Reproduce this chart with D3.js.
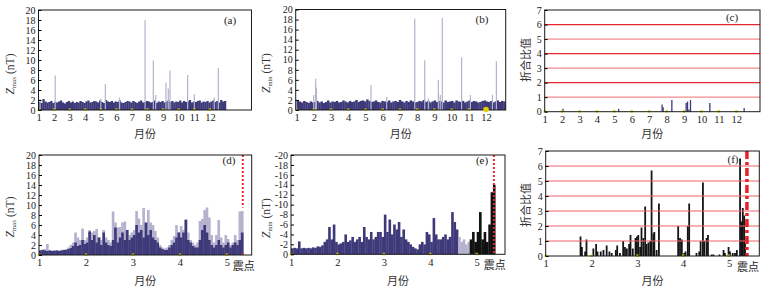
<!DOCTYPE html>
<html>
<head>
<meta charset="utf-8">
<script src="https://cdn.jsdelivr.net/npm/d3@7"></script>
<style>
body { margin: 0; background: #fff; }
</style>
</head>
<body>
<div id="chart"></div>
<script>
// ---------- data ----------
const yearTicks = [1, 2, 3, 4, 5, 6, 7, 8, 9, 10, 11, 12];
const quakeTicks = [1, 2, 3, 4, 5];
const zTicks = [0, 2, 4, 6, 8, 10, 12, 14, 16, 18, 20];
const ratioTicks = [0, 1, 2, 3, 4, 5, 6, 7];
const ratioLines = [1, 2, 3, 4, 5, 6];

// (a) Zmax, one year: background level (1/8 month steps from month 1) and isolated spikes
const aBaseStart = 1, aBaseEnd = 13.03;
const aBase = [1.6,1.4,2.2,1.7,1.5,1.6,1.8,1.4,1.6,1.5,1.7,1.9,1.5,1.3,1.6,1.8,1.5,1.7,1.4,1.6,1.5,1.8,1.6,1.4,
  1.7,1.9,1.5,1.6,1.8,1.7,1.5,1.9,1.6,1.4,2.0,1.7,1.6,1.8,1.5,1.7,1.6,1.9,1.5,1.4,1.6,1.8,1.7,1.5,
  1.8,1.6,1.4,1.7,1.9,1.5,1.6,1.8,1.7,1.5,1.6,1.9,1.4,1.7,1.6,1.8,1.5,1.7,1.9,1.6,1.8,1.5,1.7,1.6,
  1.9,1.5,1.8,1.6,1.7,2.0,1.5,1.7,1.6,1.8,1.9,1.5,1.7,1.6,1.8,1.5,1.7,1.9,1.6,1.8,1.5,2.0,1.7,1.8];
const aSpikeMonth = [1.1, 2.07, 5.0, 5.29, 6.2, 7.84, 8.37, 8.52, 9.18, 9.33, 9.44, 10.57, 11.0, 12.28, 12.54];
const aSpikeValue = [2.2, 6.9, 2.3, 5.2, 2.5, 18.0, 9.9, 3.0, 5.5, 4.3, 7.9, 7.0, 3.2, 2.5, 8.4];

// (b) Zmin, one year
const bBaseStart = 1, bBaseEnd = 13.12;
const bBase = [2.0,1.7,1.5,1.8,1.6,1.4,1.7,1.5,1.6,1.8,1.5,1.7,1.4,1.6,1.9,1.5,1.7,1.6,1.8,1.5,1.6,1.9,1.7,1.5,
  1.8,1.6,1.7,2.0,1.6,1.8,1.9,1.7,2.1,1.8,1.6,1.7,1.9,1.6,1.5,1.8,1.7,1.6,1.9,1.5,1.7,1.8,1.6,2.0,
  1.7,1.5,1.8,1.6,1.9,1.7,1.5,1.6,1.8,1.7,2.0,1.6,1.8,1.5,1.7,1.9,1.6,1.8,1.7,1.5,1.9,1.6,1.7,1.8,
  1.5,1.9,1.7,1.6,1.8,1.5,1.7,1.9,1.6,1.8,1.7,1.5,1.6,1.8,1.9,1.7,1.6,1.8,1.5,1.7,1.9,1.6,1.8,1.7];
const bSpikeMonth = [2.0, 2.11, 2.15, 5.32, 6.23, 7.86, 8.44, 8.65, 9.23, 9.34, 9.46, 10.58, 11.09, 12.37, 12.6];
const bSpikeValue = [3.0, 6.2, 4.5, 5.0, 2.6, 18.2, 9.9, 2.3, 6.0, 3.0, 18.3, 10.5, 3.0, 3.0, 9.7];

// (c) ratio, one year
const cMonth = [2.05, 5.25, 7.74, 7.8, 8.3, 9.12, 9.2, 9.28, 9.37, 10.48, 12.45];
const cValue = [0.2, 0.2, 0.5, 0.3, 0.8, 0.6, 0.7, 0.15, 0.8, 0.6, 0.25];

// (d) Zmax before the quake, 0.05-month steps from month 1
const dStep = 0.05;
const dQuake = 5.34;
const dUpper = [1.0,1.1,1.2,2.2,1.0,0.9,1.0,1.0,0.9,1.0,1.1,1.2,
  1.5,2.0,2.5,4.5,3.5,3.0,5.3,3.0,
  3.5,5.0,4.5,4.8,5.2,3.5,3.0,5.0,3.5,3.0,
  2.5,8.7,6.5,5.5,5.6,6.5,6.7,5.0,4.0,4.5,
  5.0,8.8,7.3,6.0,9.4,5.0,9.0,6.5,6.0,4.8,
  3.5,2.0,1.5,1.3,1.5,2.0,3.0,3.8,6.0,4.5,
  5.8,5.0,7.2,4.5,3.0,2.5,2.0,2.5,6.8,7.2,
  9.0,9.5,7.5,4.0,2.5,4.0,7.0,3.5,2.5,4.0,
  3.2,2.0,2.5,4.0,3.0,8.7,8.8];
const dLower = [0.9,1.0,0.9,0.8,0.9,0.8,0.8,0.9,0.8,0.9,1.0,1.0,
  1.2,1.4,1.8,2.5,1.8,2.0,3.0,2.2,
  2.5,4.7,3.0,4.0,2.5,3.5,2.0,4.5,2.5,2.0,
  1.8,3.0,5.5,2.5,3.5,4.5,3.0,5.0,3.0,3.5,
  4.0,6.0,4.5,5.0,3.5,6.5,4.0,5.0,3.5,3.0,
  2.5,1.5,1.2,1.0,1.0,1.5,2.0,2.5,3.5,4.5,
  3.5,4.5,7.0,3.0,2.5,1.8,1.5,1.5,3.0,5.0,
  6.0,4.5,3.0,2.0,1.5,2.0,3.0,2.0,1.5,2.0,
  2.5,1.5,2.0,2.5,2.0,3.0,4.5];

// (e) Zmin before the quake (plotted as magnitude, labels negative)
const eStep = 0.05;
const eQuake = 5.37;
const eEarlyStart = 1.0;
const eEarly = [1.2,1.3,1.2,2.6,1.2,1.3,1.2,1.3,1.2,1.4,1.3,1.6,1.5,1.8,2.5,3.0,5.5,3.0,6.0,2.5,
  2.0,2.2,2.5,4.0,2.5,2.8,3.5,2.5,3.0,3.5,2.5,5.5,3.5,3.0,4.5,3.0,3.5,4.5,4.5,3.5,
  8.0,4.5,7.0,4.0,6.0,5.0,6.5,3.5,5.0,3.0,2.5,2.0,1.5,1.2,1.0,2.0,2.5,2.0,4.5,4.0,
  2.5,7.3,4.0,3.0,3.0,3.5,4.0,3.0,3.5,8.5,6.5,5.0];
const eMidStart = 4.6;
const eMid = [3.5, 2.5, 3.0, 2.0, 2.5];
const eLateStart = 4.85;
const eLate = [3.0, 4.5, 2.5, 4.5, 8.5, 3.0, 4.5, 2.5, 6.0, 12.5, 14.0];

// (f) ratio before the quake
const fQuake = 5.39;
const fMonth = [1.76,1.79,1.86,1.89,2.04,2.10,2.13,2.20,2.26,2.33,2.39,2.44,2.53,2.56,2.62,2.69,2.73,2.77,2.82,2.85,
  2.90,2.96,2.99,3.02,3.06,3.09,3.13,3.17,3.20,3.24,3.28,3.31,3.35,3.37,3.42,3.47,
  3.89,3.93,3.97,4.02,4.05,4.10,4.13,4.29,4.35,4.38,4.43,4.46,4.51,4.54,4.62,4.66,4.79,
  4.88,4.91,4.99,5.02,5.08,5.13,5.17,5.24,5.27,5.30,5.33,5.35];
const fValue = [1.3,0.6,0.3,1.1,0.5,0.8,0.3,0.3,0.4,0.7,0.3,0.2,0.4,0.7,0.2,1.0,0.6,0.5,0.8,1.4,
  0.5,1.2,1.3,1.4,0.6,1.9,1.2,3.3,0.8,0.9,1.0,5.7,1.5,1.6,0.4,3.5,
  2.0,1.2,1.1,0.2,0.3,2.0,3.5,0.2,0.3,1.0,4.9,1.0,1.2,1.4,0.1,0.1,0.1,
  0.4,0.2,0.6,0.3,0.2,0.2,0.4,6.5,2.3,3.2,2.7,0.8];

// ---------- drawing ----------
const DARK = "#3e3a7a", LIGHT = "#b4b2ce", RED = "#e8262e", PINK = "#f28a8e", YEL = "#e3d000";
const SERIF = "'Liberation Serif','Times New Roman',serif";
const CJK = "'Noto Sans CJK SC','Noto Sans',sans-serif";

const svg = d3.select("#chart").append("svg")
  .attr("width", 771).attr("height", 290)
  .style("font-family", SERIF);

function panel(o) {
  const x = d3.scaleLinear().domain(o.xd).range([o.L, o.R]);
  const y = d3.scaleLinear().domain([0, o.ymax]).range([o.B, o.T]);
  const g = svg.append("g");
  return { o, x, y, g, marks: g.append("g") };
}

// step bars starting at `start`, one value per `step`
function stepBars(P, vals, start, step, color) {
  const { x, y } = P;
  P.marks.append("g").selectAll("rect").data(vals).join("rect")
    .attr("x", (d, i) => x(start + i * step))
    .attr("width", (d, i) => x(start + (i + 1) * step) - x(start + i * step) + 0.3)
    .attr("y", d => y(d))
    .attr("height", d => y(0) - y(d))
    .attr("fill", color);
}

function spikes(P, months, vals, color, w) {
  const { x, y } = P;
  P.marks.append("g").selectAll("line").data(vals).join("line")
    .attr("x1", (d, i) => x(months[i])).attr("x2", (d, i) => x(months[i]))
    .attr("y1", y(0)).attr("y2", d => y(d))
    .attr("stroke", color).attr("stroke-width", w);
}

function dress(P, opt) {
  const { o, x, y, g } = P;
  // little yellow markers on the month ticks
  g.append("g").selectAll("rect").data(opt.xticks).join("rect")
    .attr("x", d => x(d) - 1.2).attr("y", o.B - 1.5)
    .attr("width", 2.4).attr("height", 2.4).attr("fill", YEL);

  g.append("rect")
    .attr("x", o.L).attr("y", o.T).attr("width", o.R - o.L).attr("height", o.B - o.T)
    .attr("fill", "none").attr("stroke", "#1a1a1a").attr("stroke-width", 1);

  const ya = g.append("g").attr("transform", `translate(${o.L},0)`)
    .call(d3.axisLeft(y).tickValues(opt.yticks).tickSize(-3).tickPadding(3)
      .tickFormat(opt.yfmt || (d => d)));
  ya.select(".domain").remove();
  ya.attr("font-family", SERIF).attr("font-size", 10);
  ya.selectAll("text").attr("fill", "#222");

  const xa = g.append("g").attr("transform", `translate(0,${o.B})`)
    .call(d3.axisBottom(x).tickValues(opt.xticks).tickSize(0).tickPadding(4).tickFormat(d => d));
  xa.select(".domain").remove();
  xa.attr("font-family", SERIF).attr("font-size", 10.5);
  xa.selectAll("text").attr("fill", "#222");

  // x title
  g.append("text").attr("x", (o.L + o.R) / 2).attr("y", opt.xtitleY)
    .attr("text-anchor", "middle").attr("font-family", CJK).attr("font-size", 11)
    .attr("fill", "#333").text("月份");

  // y title
  const yt = g.append("text")
    .attr("transform", `translate(${opt.ytX},${opt.ytY}) rotate(-90)`)
    .attr("text-anchor", "middle").attr("fill", "#333");
  if (opt.ysub) {
    yt.attr("font-size", 11.5);
    yt.append("tspan").attr("font-style", "italic").text("Z");
    yt.append("tspan").attr("font-size", 6.5).attr("dy", 1.5).text(opt.ysub);
    yt.append("tspan").attr("dy", -1.5).text(" (nT)");
  } else {
    yt.attr("font-family", CJK).attr("font-size", 11).text("折合比值");
  }

  // panel tag
  g.append("text").attr("x", opt.tag[1]).attr("y", opt.tag[2])
    .attr("text-anchor", "middle").attr("font-size", 11).attr("fill", "#222").text(opt.tag[0]);

  if (opt.quake !== undefined) {
    g.append("text").attr("x", x(opt.quake) + 1).attr("y", o.B + 15)
      .attr("text-anchor", "middle").attr("font-family", CJK).attr("font-size", 11)
      .attr("fill", "#222").text("震点");
  }
}

function ratioGrid(P, colors, w) {
  const { o, y } = P;
  P.g.append("g").selectAll("line").data(ratioLines).join("line")
    .attr("x1", o.L).attr("x2", o.R)
    .attr("y1", d => y(d)).attr("y2", d => y(d))
    .attr("stroke", (d, i) => colors[i % colors.length]).attr("stroke-width", w);
}

// ----- (a) -----
const pa = panel({ L: 38.5, R: 251.5, T: 10, B: 110, xd: [1, 14.67], ymax: 20 });
stepBars(pa, aBase, aBaseStart, (aBaseEnd - aBaseStart) / aBase.length, DARK);
spikes(pa, aSpikeMonth, aSpikeValue, LIGHT, 1.2);
dress(pa, { xticks: yearTicks, yticks: zTicks, xtitleY: 137.5, ytX: 14, ytY: 74, ysub: "max", tag: ["(a)", 230, 24] });

// ----- (b) -----
const pb = panel({ L: 295.7, R: 505.7, T: 9.5, B: 110, xd: [0.95, 13.14], ymax: 20 });
stepBars(pb, bBase, bBaseStart, (bBaseEnd - bBaseStart) / bBase.length, DARK);
spikes(pb, bSpikeMonth, bSpikeValue, LIGHT, 1.2);
dress(pb, { xticks: yearTicks, yticks: zTicks, xtitleY: 137.5, ytX: 270, ytY: 73, ysub: "min", tag: ["(b)", 482, 23] });
pb.g.append("circle").attr("cx", pb.x(12)).attr("cy", pb.o.B - 0.5).attr("r", 2.8).attr("fill", YEL);

// ----- (c) -----
const pc = panel({ L: 544.7, R: 760, T: 10, B: 111.7, xd: [1, 13.36], ymax: 7 });
ratioGrid(pc, [PINK, RED], 1.2);
spikes(pc, cMonth, cValue, DARK, 1.3);
dress(pc, { xticks: yearTicks, yticks: ratioTicks, xtitleY: 137.5, ytX: 530, ytY: 60, tag: ["(c)", 732, 21] });

// ----- (d) -----
const pd = panel({ L: 39, R: 251.7, T: 155, B: 255, xd: [1, 5.53], ymax: 20 });
stepBars(pd, dUpper, 1, dStep, LIGHT);
stepBars(pd, dLower, 1, dStep, DARK);
pd.g.append("line")
  .attr("x1", pd.x(dQuake)).attr("x2", pd.x(dQuake))
  .attr("y1", pd.y(20)).attr("y2", pd.y(9.5))
  .attr("stroke", RED).attr("stroke-width", 2).attr("stroke-dasharray", "2,2");
pd.g.append("rect").attr("x", pd.x(dQuake) - 1).attr("y", pd.o.B - 2).attr("width", 2).attr("height", 2).attr("fill", RED);
dress(pd, { xticks: quakeTicks, yticks: zTicks, xtitleY: 285, ytX: 14, ytY: 217, ysub: "max", tag: ["(d)", 229, 164], quake: dQuake });

// ----- (e) -----
const pe = panel({ L: 291, R: 505, T: 155, B: 254.3, xd: [1, 5.61], ymax: 20 });
stepBars(pe, eEarly, eEarlyStart, eStep, DARK);
stepBars(pe, eMid, eMidStart, eStep, LIGHT);
stepBars(pe, eLate, eLateStart, eStep, "#111");
pe.g.append("line")
  .attr("x1", pe.x(eQuake)).attr("x2", pe.x(eQuake))
  .attr("y1", pe.o.T).attr("y2", pe.o.B)
  .attr("stroke", RED).attr("stroke-width", 2).attr("stroke-dasharray", "2,2");
dress(pe, { xticks: quakeTicks, yticks: zTicks, xtitleY: 285, ytX: 270, ytY: 218, ysub: "min",
  yfmt: d => d === 0 ? "0" : "-" + d, tag: ["(e)", 482, 164], quake: eQuake });

// ----- (f) -----
const pf = panel({ L: 545.7, R: 759.3, T: 151, B: 256, xd: [1, 5.66], ymax: 7 });
spikes(pf, fMonth, fValue, "#151515", 1.8);
ratioGrid(pf, ["#f0646c"], 1.2);
pf.g.append("line")
  .attr("x1", pf.x(fQuake)).attr("x2", pf.x(fQuake))
  .attr("y1", pf.o.T).attr("y2", pf.o.B)
  .attr("stroke", "#e8202a").attr("stroke-width", 3.5).attr("stroke-dasharray", "8,3,3,3");
dress(pf, { xticks: quakeTicks, yticks: ratioTicks, xtitleY: 285, ytX: 530, ytY: 205, tag: ["(f)", 733, 163], quake: fQuake });
</script>
</body>
</html>
